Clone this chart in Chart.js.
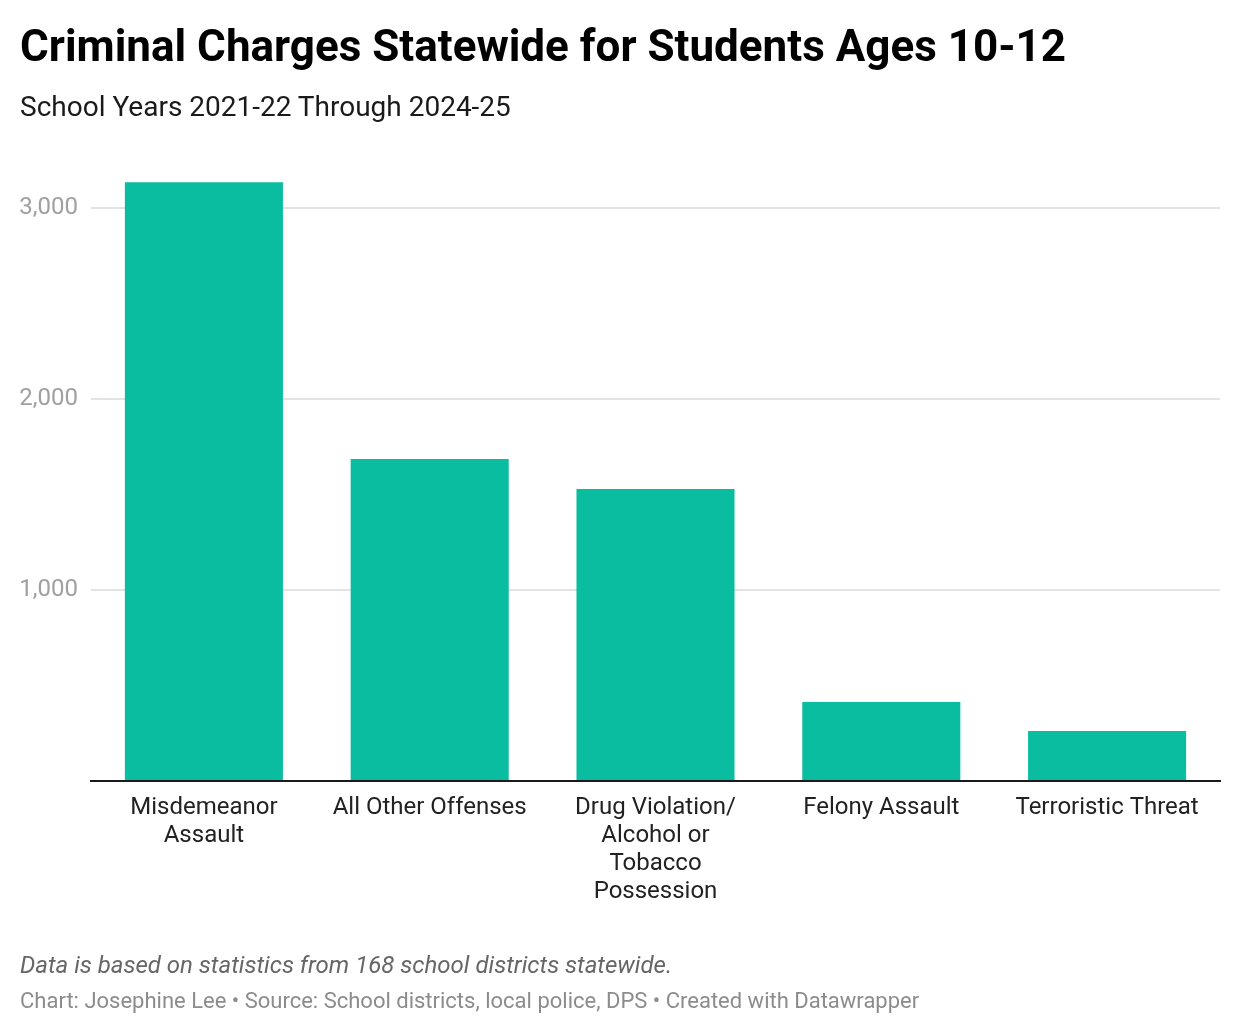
<!DOCTYPE html>
<html>
<head>
<meta charset="utf-8">
<script src="https://cdn.jsdelivr.net/npm/chart.js@4"></script>
<style>
  html, body { margin: 0; padding: 0; background: #fff; }
  body { width: 1240px; height: 1034px; position: relative; overflow: hidden; font-family: Roboto, "Liberation Sans", sans-serif; }
  .t { position: absolute; left: 20px; white-space: nowrap; line-height: 1; }
  #title { top: 23.5px; font-size: 44px; font-weight: 700; color: #000; }
  #subtitle { top: 92.5px; font-size: 28px; color: #1a1a1a; }
  #note { top: 952.5px; font-size: 24px; font-style: italic; color: #666; }
  #credit { top: 989.5px; font-size: 22px; color: #8c8c8c; }
  #wrap { position: absolute; left: 0; top: 0; width: 1240px; height: 1034px; }
</style>
</head>
<body>
<div id="wrap"><canvas id="c" width="1240" height="1034"></canvas></div>
<div id="title" class="t">Criminal Charges Statewide for Students Ages 10-12</div>
<div id="subtitle" class="t">School Years 2021-22 Through 2024-25</div>
<div id="note" class="t">Data is based on statistics from 168 school districts statewide.</div>
<div id="credit" class="t">Chart: Josephine Lee • Source: School districts, local police, DPS • Created with Datawrapper</div>
<script>
const categories = [
  ["Misdemeanor", "Assault"],
  "All Other Offenses",
  ["Drug Violation/", "Alcohol or", "Tobacco", "Possession"],
  "Felony Assault",
  "Terroristic Threat"
];
const charges = [3136, 1686, 1529, 414, 262];
const yTicks = [0, 1000, 2000, 3000];

new Chart(document.getElementById('c'), {
  type: 'bar',
  data: {
    labels: categories,
    datasets: [{
      data: charges,
      backgroundColor: '#0bbda0',
      borderWidth: 0,
      categoryPercentage: 1.0,
      barPercentage: 0.7
    }]
  },
  options: {
    responsive: false,
    animation: false,
    devicePixelRatio: 1,
    layout: { padding: { top: 170, left: 0, right: 20, bottom: 123 } },
    plugins: { legend: { display: false }, tooltip: { enabled: false }, title: { display: false } },
    scales: {
      x: {
        grid: { display: false, drawTicks: false },
        border: { display: true, color: '#1a1a1a', width: 2 },
        ticks: {
          color: '#222',
          font: { family: 'Roboto', size: 24, lineHeight: 1.1667 },
          padding: 13,
          maxRotation: 0,
          autoSkip: false
        },
        afterFit: (s) => { s.height = 130; }
      },
      y: {
        min: 0,
        max: 3200,
        afterBuildTicks: (s) => { s.ticks = yTicks.map(v => ({ value: v })); },
        grid: {
          color: (ctx) => (ctx.tick && ctx.tick.value === 0) ? 'rgba(0,0,0,0)' : '#e3e3e3',
          lineWidth: 2,
          drawTicks: false
        },
        border: { display: false },
        ticks: {
          color: '#a0a0a0',
          font: { family: 'Roboto', size: 24 },
          padding: 13,
          callback: (v) => v === 0 ? '' : v.toLocaleString('en-US')
        },
        afterFit: (s) => { s.width = 91; }
      }
    }
  }
});
</script>
</body>
</html>
